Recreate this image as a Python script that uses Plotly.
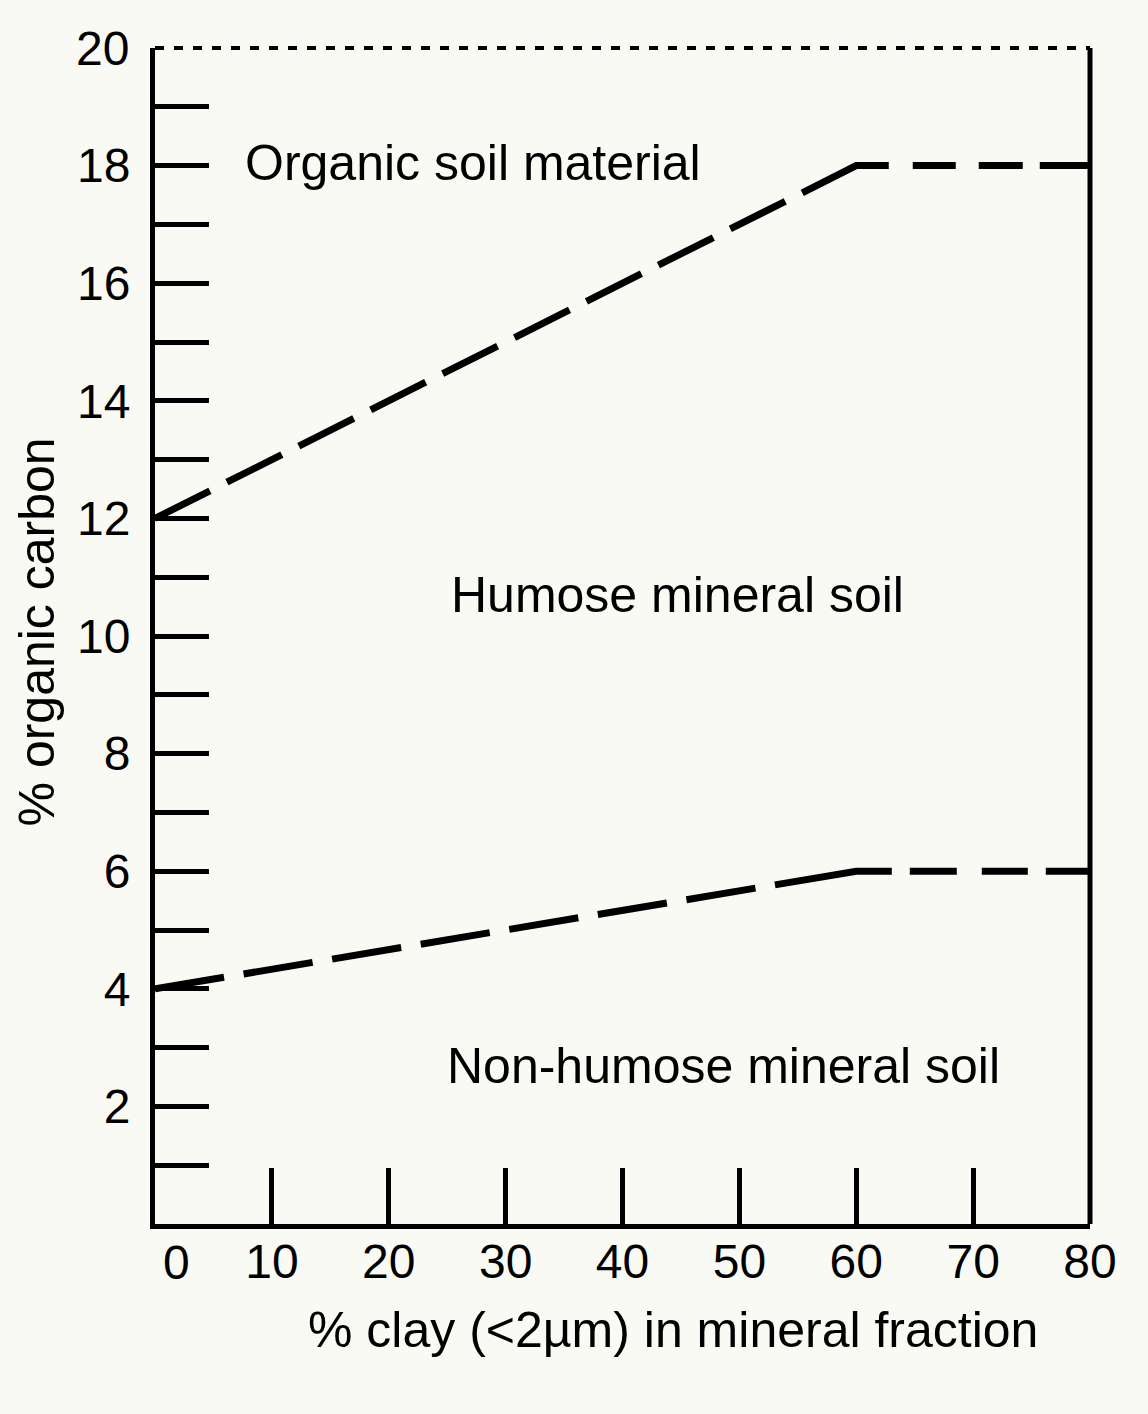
import plotly.graph_objects as go

# ---- data ----
upper_x = [0, 60, 80]
upper_y = [12, 18, 18]
lower_x = [0, 60, 80]
lower_y = [4, 6, 6]

x_ticks = [10, 20, 30, 40, 50, 60, 70, 80]
x_ticklabels = ["10", "20", "30", "40", "50", "60", "70", "80"]
y_ticks = list(range(1, 20))
y_ticklabels = [str(v) if v % 2 == 0 else "" for v in y_ticks]

region_labels = ["Organic soil material", "Humose mineral soil", "Non-humose mineral soil"]
region_x = [27.2, 44.7, 48.6]
region_y = [18.05, 10.7, 2.68]

FONT = "Liberation Sans, Arial, Helvetica, sans-serif"
BG = "#fafaf5"
FS = 48
FS_TXT = 50


def dash(lengths):
    return ",".join(f"{v}px" for v in lengths)


upper_dash = dash([61.5, 19] * 9 + [93, 24, 43, 23, 44, 17, 60])
lower_dash = dash([70, 19.8] * 7 + [118, 18, 47, 25, 46, 18, 60])

fig = go.Figure()
fig.add_trace(go.Scatter(x=upper_x, y=upper_y, mode="lines",
                         line=dict(color="black", width=7, dash=upper_dash),
                         hoverinfo="skip", showlegend=False))
fig.add_trace(go.Scatter(x=lower_x, y=lower_y, mode="lines",
                         line=dict(color="black", width=7, dash=lower_dash),
                         hoverinfo="skip", showlegend=False))

annotations = []
for t, x, y in zip(region_labels, region_x, region_y):
    annotations.append(dict(x=x, y=y, xref="x", yref="y", text=t, showarrow=False,
                            xanchor="center", yanchor="middle",
                            font=dict(family=FONT, size=FS_TXT, color="black")))
# "20" and "0" labels at the ends of the axes
annotations.append(dict(x=0, y=20, xref="paper", yref="y", text="20", showarrow=False,
                        xanchor="right", yanchor="middle", xshift=-24,
                        font=dict(family=FONT, size=FS, color="black")))
annotations.append(dict(x=0, y=0, xref="x", yref="paper", text="0", showarrow=False,
                        xanchor="center", yanchor="top", xshift=21, yshift=-10,
                        font=dict(family=FONT, size=FS, color="black")))
# axis titles
annotations.append(dict(x=0.554, y=-0.09, xref="paper", yref="paper",
                        text="% clay (<2µm) in mineral fraction", showarrow=False,
                        xanchor="center", yanchor="middle",
                        font=dict(family=FONT, size=FS_TXT, color="black")))
annotations.append(dict(x=0, y=0.503, xref="paper", yref="paper",
                        text="% organic carbon", showarrow=False, textangle=-90,
                        xanchor="center", yanchor="middle", xshift=-118,
                        font=dict(family=FONT, size=FS_TXT, color="black")))

fig.update_layout(
    width=1148, height=1414,
    margin=dict(l=155, r=58, t=48, b=190),
    paper_bgcolor=BG, plot_bgcolor=BG,
    annotations=annotations,
    shapes=[
        dict(type="line", xref="paper", yref="paper", x0=0, x1=1, y0=1, y1=1,
             line=dict(color="black", width=4, dash="9px,10px")),
        dict(type="line", xref="paper", yref="paper", x0=1, x1=1, y0=0, y1=1,
             line=dict(color="black", width=5)),
    ],
    xaxis=dict(range=[0, 80], tickmode="array", tickvals=x_ticks, ticktext=x_ticklabels,
               ticks="inside", ticklen=56, tickwidth=5, tickcolor="black",
               showline=True, linewidth=5, linecolor="black",
               showgrid=False, zeroline=False, ticklabelstandoff=-9,
               tickfont=dict(family=FONT, size=FS, color="black")),
    yaxis=dict(range=[0, 20], tickmode="array", tickvals=y_ticks, ticktext=y_ticklabels,
               ticks="inside", ticklen=54, tickwidth=5, tickcolor="black",
               showline=True, linewidth=5, linecolor="black",
               showgrid=False, zeroline=False, ticklabelstandoff=10,
               tickfont=dict(family=FONT, size=FS, color="black")),
)

fig.write_html("out.html")
